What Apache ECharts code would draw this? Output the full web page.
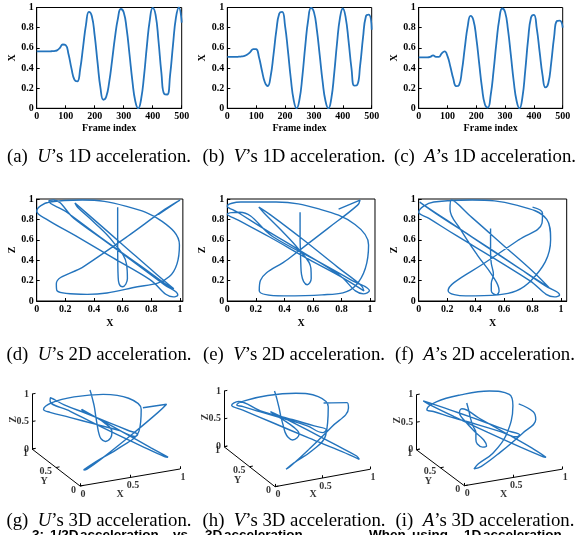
<!DOCTYPE html>
<html><head><meta charset="utf-8">
<script src="https://cdn.jsdelivr.net/npm/echarts@6/dist/echarts.min.js"></script>
<style>html,body{margin:0;padding:0;background:#fff}#c{width:587px;height:535px}</style>
</head><body><div id="c"></div>
<script>
// ---------- data ----------
const frames = [0,10,20,30,40,50,60,70,80,90,100,110,120,130,140,150,160,170,180,190,200,210,220,230,240,250,260,270,280,290,300,310,320,330,340,350,360,370,380,390,400,410,420,430,440,450,460,470,480,490,500];
// X component of acceleration (1D plots, also x of 2D/3D)
const uX = [0.565,0.565,0.565,0.565,0.565,0.566,0.568,0.575,0.6,0.633,0.627,0.533,0.394,0.285,0.267,0.39,0.61,0.83,0.957,0.916,0.72,0.45,0.2,0.085,0.117,0.26,0.476,0.707,0.89,0.985,0.953,0.79,0.536,0.27,0.07,0.0,0.09,0.32,0.62,0.875,0.996,0.926,0.668,0.352,0.142,0.137,0.33,0.63,0.896,1.0,0.85];
const vX = [0.51,0.51,0.51,0.51,0.512,0.515,0.52,0.535,0.56,0.588,0.586,0.504,0.373,0.259,0.221,0.317,0.533,0.775,0.94,0.957,0.818,0.569,0.293,0.08,0.0,0.088,0.32,0.62,0.875,0.996,0.954,0.78,0.527,0.266,0.072,0.0,0.094,0.342,0.648,0.895,0.99,0.898,0.664,0.397,0.224,0.232,0.425,0.703,0.913,0.93,0.78];
const aX = [0.505,0.505,0.505,0.505,0.51,0.525,0.51,0.51,0.545,0.565,0.517,0.412,0.295,0.22,0.23,0.373,0.6,0.81,0.917,0.873,0.697,0.446,0.2,0.037,0.007,0.13,0.373,0.655,0.888,0.99,0.954,0.78,0.527,0.266,0.072,0.0,0.106,0.375,0.686,0.9,0.927,0.79,0.558,0.33,0.207,0.248,0.449,0.703,0.866,0.87,0.8];
// Z component (2D / 3D plots)
const uZ = [0.92,0.88,0.8,0.68,0.53,0.38,0.25,0.17,0.14,0.22,0.36,0.58,0.78,0.92,0.96,0.81,0.54,0.27,0.12,0.15,0.35,0.62,0.88,0.98,0.99,0.81,0.59,0.35,0.16,0.06,0.04,0.21,0.42,0.64,0.8,0.88,0.97,0.99,0.93,0.78,0.55,0.24,0.13,0.065,0.1,0.17,0.34,0.63,0.9,0.99,0.85];
const vZ = [0.87,0.83,0.75,0.63,0.5,0.37,0.26,0.19,0.16,0.22,0.32,0.5,0.7,0.86,0.92,0.83,0.6,0.33,0.15,0.1,0.22,0.41,0.63,0.79,0.85,0.87,0.63,0.4,0.2,0.1,0.07,0.26,0.48,0.7,0.87,0.93,0.97,0.97,0.9,0.75,0.55,0.15,0.06,0.05,0.1,0.2,0.41,0.71,0.94,0.99,0.9];
const aZ = [0.71,0.66,0.58,0.48,0.37,0.26,0.17,0.1,0.06,0.1,0.25,0.45,0.7,0.9,0.99,0.82,0.54,0.28,0.13,0.17,0.33,0.56,0.79,0.94,0.97,0.85,0.63,0.37,0.15,0.06,0.04,0.2,0.42,0.64,0.81,0.87,0.97,0.99,0.94,0.8,0.6,0.2,0.06,0.05,0.1,0.18,0.36,0.6,0.76,0.86,0.92];
// Y component (3D plots)
const uY = [0.97,0.95,0.92,0.88,0.85,0.82,0.79,0.76,0.72,0.68,0.64,0.6,0.57,0.55,0.52,0.46,0.36,0.25,0.16,0.15,0.24,0.42,0.62,0.8,0.86,0.87,0.87,0.87,0.86,0.85,0.84,0.82,0.8,0.78,0.77,0.76,0.77,0.79,0.81,0.81,0.8,0.7,0.55,0.4,0.22,0.14,0.16,0.2,0.24,0.28,0.46];
const vY = [0.96,0.94,0.91,0.87,0.84,0.8,0.77,0.74,0.7,0.66,0.62,0.58,0.55,0.52,0.5,0.44,0.34,0.24,0.15,0.13,0.22,0.4,0.6,0.78,0.85,0.88,0.88,0.87,0.86,0.85,0.84,0.82,0.8,0.78,0.76,0.75,0.76,0.78,0.8,0.82,0.8,0.68,0.52,0.36,0.2,0.13,0.15,0.2,0.26,0.32,0.5];
const aY = [0.98,0.96,0.93,0.9,0.86,0.83,0.8,0.77,0.73,0.69,0.65,0.61,0.58,0.55,0.52,0.45,0.35,0.25,0.17,0.15,0.24,0.42,0.62,0.8,0.87,0.9,0.9,0.89,0.88,0.87,0.86,0.84,0.82,0.8,0.79,0.78,0.8,0.84,0.88,0.9,0.88,0.74,0.55,0.38,0.22,0.15,0.17,0.22,0.28,0.34,0.5];
// tick labels / texts
const ticks3D = [0, 0.5, 1];
const captions1D = ['(a)  {i|U}’s 1D acceleration.', '(b)  {i|V}’s 1D acceleration.', '(c)  {i|A}’s 1D acceleration.'];
const captions2D = ['(d)  {i|U}’s 2D acceleration.', '(e)  {i|V}’s 2D acceleration.', '(f)  {i|A}’s 2D acceleration.'];
const captions3D = ['(g)  {i|U}’s 3D acceleration.', '(h)  {i|V}’s 3D acceleration.', '(i)  {i|A}’s 3D acceleration.'];
const bottomWords = ['3:', '1/2D', 'acceleration', 'vs.', '3D', 'acceleration.', 'When', 'using', '1D', 'acceleration'];

// ---------- styling / layout ----------
const BLUE = '#2474bd';
const SERIF = 'Liberation Serif';
const tickFont = {fontFamily: SERIF, fontWeight: 'bold', fontSize: 10, color: '#000'};
const bottomWordX = [32, 50, 80, 173, 205, 224, 369, 412, 464, 483];
const grids = [], xAxes = [], yAxes = [], series = [], graphics = [];

function valAxis(gi, extra) {
  return Object.assign({
    gridIndex: gi, type: 'value',
    axisLine: {show: true, onZero: false, lineStyle: {color: '#000', width: 1}},
    axisTick: {show: true, inside: true, length: 3, lineStyle: {color: '#000'}},
    axisLabel: Object.assign({margin: 3}, tickFont),
    splitLine: {show: false},
    nameLocation: 'middle',
    nameTextStyle: {fontFamily: SERIF, fontWeight: 'bold', fontSize: 10, color: '#000'}
  }, extra);
}

// 1D panels
const p1 = [{left: 36.7, width: 145}, {left: 227.3, width: 144.4}, {left: 418.7, width: 144}];
const xs = [uX, vX, aX], zs = [uZ, vZ, aZ], ys = [uY, vY, aY];
p1.forEach((p, k) => {
  grids.push({left: p.left, top: 7.5, width: p.width, height: 100.8, show: true, borderColor: '#000', borderWidth: 1});
  const gi = grids.length - 1;
  xAxes.push(valAxis(gi, {min: 0, max: 500, interval: 100, name: 'Frame index', nameGap: 15.5}));
  yAxes.push(valAxis(gi, {min: 0, max: 1, interval: 0.2, name: 'X', nameGap: 14}));
  series.push({type: 'line', xAxisIndex: gi, yAxisIndex: gi, data: frames.map((f, i) => [f, xs[k][i]]),
    smooth: 0.5, showSymbol: false, lineStyle: {color: BLUE, width: 1.8}, silent: true});
});

// 2D panels
const p2 = [{left: 36.7, unit: 143.3, max: 1.02}, {left: 227.3, unit: 142.7, max: 1.035}, {left: 418.7, unit: 142.3, max: 1.04}];
p2.forEach((p, k) => {
  grids.push({left: p.left, top: 199, width: p.unit * p.max, height: 102, show: true, borderColor: '#000', borderWidth: 1});
  const gi = grids.length - 1;
  const ax = valAxis(gi, {min: 0, max: p.max, interval: 0.2, name: 'X', nameGap: 17.5});
  ax.axisLabel.showMaxLabel = false;
  xAxes.push(ax);
  yAxes.push(valAxis(gi, {min: 0, max: 1, interval: 0.2, name: 'Z', nameGap: 14}));
  series.push({type: 'line', xAxisIndex: gi, yAxisIndex: gi, data: frames.map((f, i) => [xs[k][i], zs[k][i]]),
    smooth: 0.4, showSymbol: false, lineStyle: {color: BLUE, width: 1.4}, silent: true});
});

// 3D panels (oblique projection drawn on a pixel-unit cartesian grid)
const T3 = 372, W3 = 200, H3 = 135;
const p3 = [
  {left: 0, ox: 80, oy: 486, ex: [100, -17], ey: [-48, -37], ez: [0, -55]},
  {left: 195, ox: 275, oy: 486.7, ex: [95, -17.4], ey: [-51, -40], ez: [0, -55.7]},
  {left: 387, ox: 464.3, oy: 485.7, ex: [98, -16.5], ey: [-48, -36], ez: [0, -55]}
];
function proj(p, X, Y, Z) {
  return [p.ox - p.left + X * p.ex[0] + Y * p.ey[0] + Z * p.ez[0],
          p.oy - T3 + X * p.ex[1] + Y * p.ey[1] + Z * p.ez[1]];
}
p3.forEach((p, k) => {
  grids.push({left: p.left, top: T3, width: W3, height: H3, show: false});
  const gi = grids.length - 1;
  xAxes.push({gridIndex: gi, type: 'value', min: 0, max: W3, show: false});
  yAxes.push({gridIndex: gi, type: 'value', min: 0, max: H3, inverse: true, show: false});
  const segs = [
    [proj(p, 0, 0, 0), proj(p, 1, 0, 0)],
    [proj(p, 0, 0, 0), proj(p, 0, 1, 0)],
    [proj(p, 0, 1, 0), proj(p, 0, 1, 1)]
  ];
  ticks3D.forEach(t => {
    segs.push([proj(p, t, 0, 0), proj(p, t, 0, 0.05)]);
    segs.push([proj(p, 0, t, 0), proj(p, 0.035, t, 0)]);
    segs.push([proj(p, 0, 1, t), proj(p, 0.035, 1, t)]);
  });
  series.push({type: 'lines', coordinateSystem: 'cartesian2d', xAxisIndex: gi, yAxisIndex: gi, silent: true,
    data: segs.map(s => ({coords: s})), lineStyle: {color: '#000', width: 1, opacity: 1}});
  series.push({type: 'line', xAxisIndex: gi, yAxisIndex: gi, data: frames.map((f, i) => proj(p, xs[k][i], ys[k][i], zs[k][i])),
    smooth: 0.4, showSymbol: false, lineStyle: {color: BLUE, width: 1.4}, silent: true, clip: false});
  const lab = [];
  const mk = (pt, text, align, off, extra) => lab.push({value: pt, label: Object.assign({show: true, formatter: text, position: 'inside', align: align, verticalAlign: 'middle', offset: off}, tickFont, extra || {})});
  ticks3D.forEach(t => {
    mk(proj(p, 0, 1, t), String(t), 'right', [-3, 0]);
    mk(proj(p, 0, t, 0), String(t), 'right', [-4, 4]);
    mk(proj(p, t, 0, 0), String(t), 'center', [3, 8]);
  });
  mk(proj(p, 0.4, 0, 0), 'X', 'center', [0, 15], {fontSize: 10});
  mk(proj(p, 0, 0.5, 0), 'Y', 'center', [-12, 14], {fontSize: 10});
  mk(proj(p, 0, 1, 0.5), 'Z', 'center', [2, -19], {fontSize: 10, rotate: 90});
  series.push({type: 'scatter', xAxisIndex: gi, yAxisIndex: gi, symbolSize: 0, silent: true, data: lab, z: 5});
});

// captions
const capX = [99, 294, 485];
function caption(text, x, y) {
  graphics.push({type: 'text', x: x, y: y, silent: true, style: {
    text: text, fontFamily: SERIF, fontSize: 18.8, fill: '#000', align: 'center', verticalAlign: 'middle',
    rich: {i: {fontFamily: SERIF, fontSize: 18.8, fontStyle: 'italic', fill: '#000'}}}});
}
captions1D.forEach((c, k) => caption(c, capX[k], 157));
captions2D.forEach((c, k) => caption(c, capX[k], 355));
captions3D.forEach((c, k) => caption(c, capX[k], 521));
bottomWords.forEach((w, k) => graphics.push({type: 'text', x: bottomWordX[k], y: 528, silent: true, style: {
  text: w, fontFamily: 'Liberation Sans', fontWeight: 'bold', fontSize: 13.5, fill: '#000', align: 'left', verticalAlign: 'top'}}));

const chart = echarts.init(document.getElementById('c'));
chart.setOption({animation: false, grid: grids, xAxis: xAxes, yAxis: yAxes, series: series, graphic: graphics});
</script></body></html>
